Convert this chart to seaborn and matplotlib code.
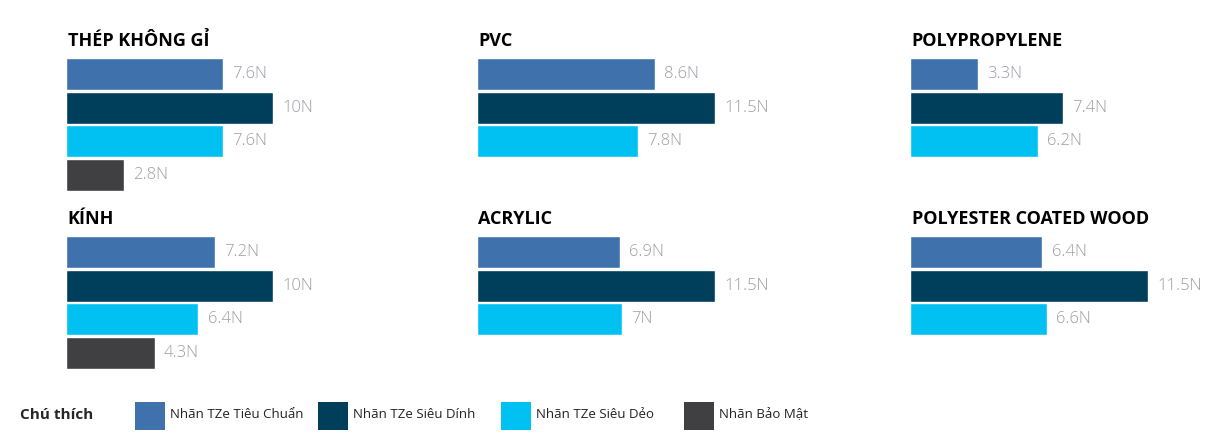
import numpy as np
import pandas as pd
import matplotlib
matplotlib.use('Agg')
import matplotlib.pyplot as plt
from matplotlib.patches import Rectangle
import seaborn as sns

sns.set_style('white')
plt.rcParams['font.family'] = ['Open Sans', 'DejaVu Sans']

# chart data
materials = ['THÉP KHÔNG GỈ', 'PVC', 'POLYPROPYLENE',
             'KÍNH', 'ACRYLIC', 'POLYESTER COATED WOOD']
series = ['Nhãn TZe Tiêu Chuẩn', 'Nhãn TZe Siêu Dính',
          'Nhãn TZe Siêu Dẻo', 'Nhãn Bảo Mật']
tieu_chuan = [7.6, 8.6, 3.3, 7.2, 6.9, 6.4]
sieu_dinh = [10, 11.5, 7.4, 10, 11.5, 11.5]
sieu_deo = [7.6, 7.8, 6.2, 6.4, 7, 6.6]
bao_mat = [2.8, np.nan, np.nan, 4.3, np.nan, np.nan]
colors = ['#3f72ad', '#003f5c', '#00c1f1', '#404042']

palette = dict(zip(series, colors))

rows = []
for i, m in enumerate(materials):
    for s, vals in zip(series, [tieu_chuan, sieu_dinh, sieu_deo, bao_mat]):
        if not np.isnan(vals[i]):
            rows.append({'material': m, 'series': s, 'value': vals[i]})
df = pd.DataFrame(rows)

W, H = 1218, 442
fig = plt.figure(figsize=(W / 100, H / 100), dpi=100)

col_x = [66, 477, 910]
row_top = [57.4, 235.5]
ax_w, ax_h = 300, 134

for i, m in enumerate(materials):
    r, c = divmod(i, 3)
    left = col_x[c] / W
    bottom = (H - row_top[r] - ax_h) / H
    ax = fig.add_axes([left, bottom, ax_w / W, ax_h / H])
    sub = df[df['material'] == m]
    sns.barplot(data=sub, x='value', y='series', order=series, hue='series',
                hue_order=series, palette=palette, legend=False,
                width=0.96, saturation=1, ax=ax)
    ax.set_xlim(0, ax_w / 20.7)
    ax.set_ylim(3.5, -0.5)
    for cont in ax.containers:
        ax.bar_label(cont, fmt='%gN', padding=6.5, color='#9d9da6',
                     fontsize=12, fontweight='light')
    ax.set_title(m, loc='left', fontsize=13, fontweight='bold',
                 color='black', pad=8, x=0.005)
    ax.axis('off')

# legend row
fig.text(20 / W, (H - 415) / H, 'Chú thích', fontsize=11, fontweight='bold',
         va='center', ha='left')
for k, (s, col) in enumerate(zip(series, colors)):
    x0 = 135 + k * 183
    fig.add_artist(Rectangle((x0 / W, (H - 430) / H), 30 / W, 28 / H,
                             transform=fig.transFigure, color=col, lw=0))
    fig.text((x0 + 35) / W, (H - 415) / H, s, fontsize=9.5, va='center',
             ha='left', color='#222222')

fig.savefig('out.png', dpi=100)
